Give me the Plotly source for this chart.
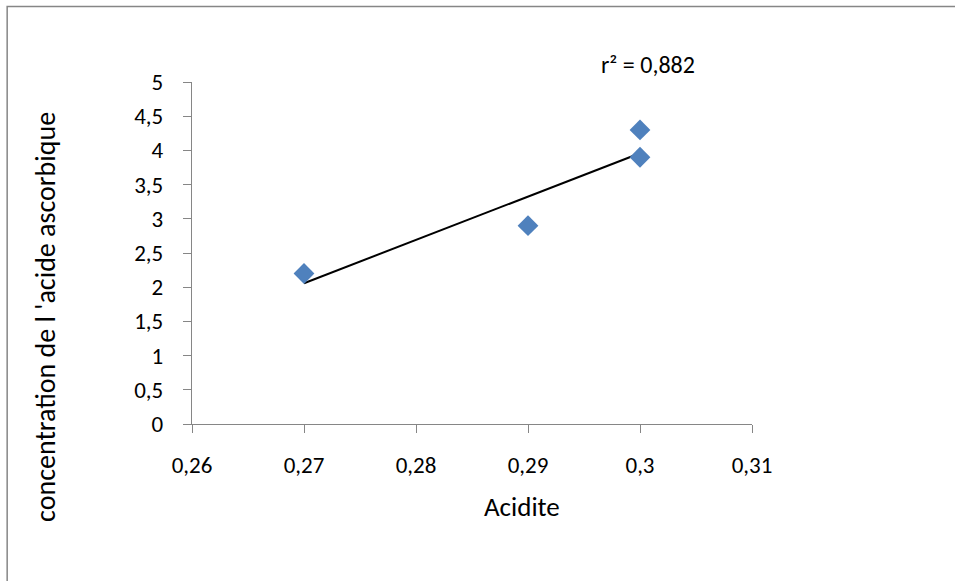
import numpy as np
import plotly.graph_objects as go

# Data
acidite = [0.27, 0.29, 0.30, 0.30]
concentration = [2.2, 2.9, 3.9, 4.3]

x_ticks = [0.26, 0.27, 0.28, 0.29, 0.30, 0.31]
x_tick_labels = ["0,26", "0,27", "0,28", "0,29", "0,3", "0,31"]
y_ticks = [0, 0.5, 1, 1.5, 2, 2.5, 3, 3.5, 4, 4.5, 5]
y_tick_labels = ["0", "0,5", "1", "1,5", "2", "2,5", "3", "3,5", "4", "4,5", "5"]

x_title = "Acidite"
y_title = "concentration de l 'acide ascorbique"

# Linear trendline (least squares) and r²
slope, intercept = np.polyfit(acidite, concentration, 1)
r2 = np.corrcoef(acidite, concentration)[0, 1] ** 2
trend_x = [min(acidite), max(acidite)]
trend_y = [slope * v + intercept for v in trend_x]
r2_text = "r² = " + f"{r2:.3f}".replace(".", ",")

W, H = 955, 581
L, R, T, B = 192, 752.5, 81.7, 424.5
FONT = "Carlito, Calibri, Lato, sans-serif"
AXIS_COLOR = "#868686"


def px(x):
    return (x - L) / (R - L)


def py(y):
    return (B - y) / (B - T)


fig = go.Figure()
fig.add_trace(go.Scatter(
    x=trend_x, y=trend_y, mode="lines",
    line=dict(color="black", width=2), showlegend=False, hoverinfo="skip"))
fig.add_trace(go.Scatter(
    x=acidite, y=concentration, mode="markers",
    marker=dict(symbol="diamond", size=16, color="#4F81BD", line=dict(width=0)),
    showlegend=False))

axis_common = dict(
    showline=True, linecolor=AXIS_COLOR, linewidth=1.3,
    ticks="outside", ticklen=8, tickcolor=AXIS_COLOR, tickwidth=1.3,
    showgrid=False, zeroline=False, tickmode="array",
    tickfont=dict(family=FONT, size=23, color="black"),
)
fig.update_xaxes(range=[0.26, 0.31], tickvals=x_ticks, ticktext=x_tick_labels,
                 ticklabelstandoff=12, **axis_common)
fig.update_yaxes(range=[0, 5], tickvals=y_ticks, ticktext=y_tick_labels,
                 ticklabelstandoff=15, **axis_common)

fig.update_layout(
    width=W, height=H,
    margin=dict(l=L, r=W - R, t=T, b=H - B, pad=0),
    plot_bgcolor="white", paper_bgcolor="white",
    font=dict(family=FONT, size=23, color="black"),
    shapes=[dict(type="rect", xref="paper", yref="paper",
                 x0=px(7), x1=px(975), y0=py(600), y1=py(6),
                 line=dict(color=AXIS_COLOR, width=1.5), layer="below")],
    annotations=[
        dict(text=r2_text, x=px(648), y=py(64), xref="paper", yref="paper",
             xanchor="center", yanchor="middle",
             showarrow=False, font=dict(family=FONT, size=24)),
        dict(text=x_title, x=px(522), y=py(507), xref="paper", yref="paper",
             xanchor="center", yanchor="middle",
             showarrow=False, font=dict(family=FONT, size=27)),
        dict(text=y_title, x=px(46), y=py(317), xref="paper", yref="paper",
             xanchor="center", yanchor="middle",
             textangle=-90, showarrow=False, font=dict(family=FONT, size=28)),
    ],
)

fig.write_html("out.html")
